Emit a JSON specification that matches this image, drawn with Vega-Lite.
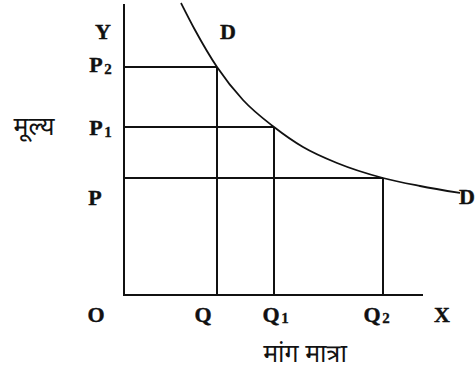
{
  "$schema": "https://vega.github.io/schema/vega-lite/v6.json",
  "width": 475,
  "height": 375,
  "padding": 0,
  "autosize": {"type": "none"},
  "background": "white",
  "config": {"view": {"stroke": null}},
  "datasets": {
    "guides": [
      {"part": "y-axis", "q": 0, "p": 0, "q2": 0, "p2": 291},
      {"part": "x-axis", "q": -1, "p": 0, "q2": 299, "p2": 0},
      {"part": "P2 level", "q": 0, "p": 228, "q2": 93, "p2": 228},
      {"part": "Q drop", "q": 93, "p": 0, "q2": 93, "p2": 228},
      {"part": "P1 level", "q": 0, "p": 168, "q2": 150, "p2": 168},
      {"part": "Q1 drop", "q": 150, "p": 0, "q2": 150, "p2": 168},
      {"part": "P level", "q": 0, "p": 117, "q2": 259, "p2": 117},
      {"part": "Q2 drop", "q": 259, "p": 0, "q2": 259, "p2": 117}
    ],
    "demand": [
      {"q": 57, "p": 292},
      {"q": 71, "p": 265},
      {"q": 93, "p": 228},
      {"q": 119, "p": 195},
      {"q": 150, "p": 168},
      {"q": 179, "p": 148},
      {"q": 213, "p": 132},
      {"q": 259, "p": 117},
      {"q": 296, "p": 109},
      {"q": 336, "p": 102}
    ],
    "letters": [
      {"t": "Y", "q": -21, "p": 263},
      {"t": "D", "q": 104, "p": 263},
      {"t": "P", "q": -28, "p": 230},
      {"t": "P", "q": -28, "p": 167},
      {"t": "P", "q": -29, "p": 97},
      {"t": "O", "q": -28, "p": -20},
      {"t": "Q", "q": 79, "p": -20},
      {"t": "Q", "q": 147, "p": -20},
      {"t": "Q", "q": 248, "p": -20},
      {"t": "X", "q": 318, "p": -20},
      {"t": "D", "q": 343, "p": 98}
    ],
    "subscripts": [
      {"t": "2", "q": -16, "p": 226},
      {"t": "1", "q": -16, "p": 163},
      {"t": "1", "q": 161, "p": -23},
      {"t": "2", "q": 262, "p": -23}
    ],
    "titles": [
      {"t": "मूल्य", "q": -90, "p": 168},
      {"t": "मांग मात्रा", "q": 181, "p": -59}
    ]
  },
  "encoding": {
    "x": {"field": "q", "type": "quantitative", "axis": null,
          "scale": {"domain": [-124, 351], "nice": false, "zero": false}},
    "y": {"field": "p", "type": "quantitative", "axis": null,
          "scale": {"domain": [-80, 295], "nice": false, "zero": false}}
  },
  "layer": [
    {
      "data": {"name": "guides"},
      "mark": {"type": "rule", "color": "#111", "strokeWidth": 2},
      "encoding": {
        "x2": {"field": "q2"},
        "y2": {"field": "p2"}
      }
    },
    {
      "data": {"name": "demand"},
      "mark": {"type": "line", "color": "#111", "strokeWidth": 1.8, "interpolate": "monotone"},
      "encoding": {}
    },
    {
      "data": {"name": "letters"},
      "mark": {"type": "text", "font": "Liberation Serif", "fontWeight": "bold", "fontSize": 22,
               "color": "#111", "stroke": "#111", "strokeWidth": 0.4,
               "align": "center", "baseline": "middle"},
      "encoding": {"text": {"field": "t"}}
    },
    {
      "data": {"name": "subscripts"},
      "mark": {"type": "text", "font": "Liberation Serif", "fontWeight": "bold", "fontSize": 15,
               "color": "#111", "stroke": "#111", "strokeWidth": 0.3,
               "align": "center", "baseline": "middle"},
      "encoding": {"text": {"field": "t"}}
    },
    {
      "data": {"name": "titles"},
      "mark": {"type": "text", "font": "Noto Sans Devanagari, Noto Serif Devanagari, Lohit Devanagari, FreeSerif, sans-serif", "fontSize": 25,
               "color": "#111", "align": "center", "baseline": "middle"},
      "encoding": {"text": {"field": "t"}}
    }
  ]
}
